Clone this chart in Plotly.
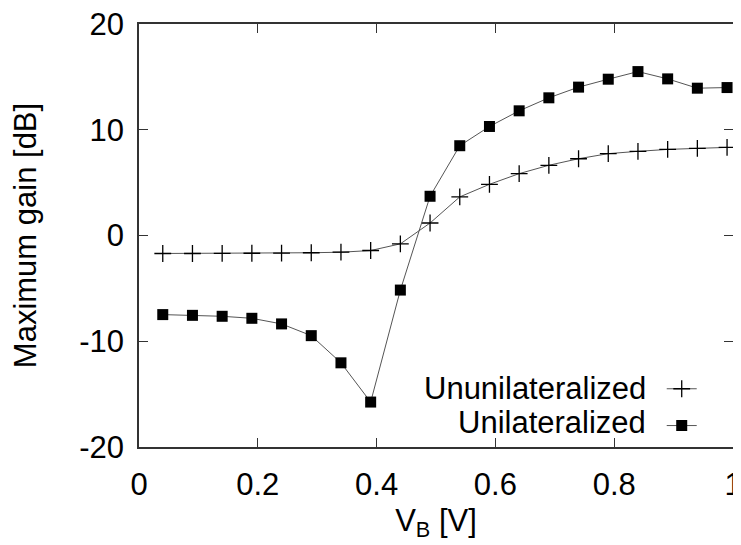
import plotly.graph_objects as go

vb = [0.04, 0.09, 0.14, 0.19, 0.24, 0.29, 0.34, 0.39, 0.44, 0.49,
      0.54, 0.59, 0.64, 0.69, 0.74, 0.79, 0.84, 0.89, 0.94, 0.99]
ununilateralized = [-1.70, -1.70, -1.69, -1.68, -1.66, -1.63, -1.58, -1.42, -0.79, 1.18,
                    3.65, 4.84, 5.85, 6.64, 7.26, 7.74, 7.96, 8.14, 8.24, 8.33]
unilateralized = [-7.48, -7.55, -7.64, -7.83, -8.36, -9.47, -12.04, -15.75, -5.16, 3.71,
                  8.49, 10.31, 11.79, 13.02, 14.03, 14.78, 15.50, 14.81, 13.93, 13.99]
series_names = ["Ununilateralized", "Unilateralized"]
x_ticks = [0, 0.2, 0.4, 0.6, 0.8, 1]
y_ticks = [-20, -10, 0, 10, 20]

FONT = "Liberation Sans, Arial, Helvetica, sans-serif"
LINE = "#555555"
FRAME = "#333333"
FS = 31

fig = go.Figure()
fig.add_trace(go.Scatter(
    x=vb, y=ununilateralized, mode="lines+markers", name=" ",
    line=dict(color=LINE, width=1),
    marker=dict(symbol="cross-thin", size=12, line=dict(color="black", width=1.3)),
    hovertemplate=series_names[0] + ": %{y} dB<extra></extra>",
))
fig.add_trace(go.Scatter(
    x=vb, y=unilateralized, mode="lines+markers", name=" ",
    line=dict(color=LINE, width=1),
    marker=dict(symbol="square", size=11, color="black"),
    hovertemplate=series_names[1] + ": %{y} dB<extra></extra>",
))

axis_common = dict(
    showgrid=False, zeroline=False, showline=True, linecolor=FRAME, linewidth=1.5,
    mirror="ticks", ticks="inside", ticklen=9, tickwidth=1, tickcolor=FRAME,
    tickfont=dict(family=FONT, size=FS, color="black"), automargin=False,
    ticklabeloverflow="allow",
)

fig.update_layout(
    width=733, height=537,
    margin=dict(l=131, r=8, t=16, b=98),
    paper_bgcolor="white", plot_bgcolor="white",
    font=dict(family=FONT, size=FS, color="black"),
    xaxis=dict(range=[0, 1], tickvals=x_ticks, ticktext=[str(t) for t in x_ticks],
               ticklabelstandoff=9,
               title=dict(text="V<sub>B</sub> [V]", font=dict(family=FONT, size=FS), standoff=8),
               **axis_common),
    yaxis=dict(range=[-20, 20], tickvals=y_ticks, ticktext=[str(t) for t in y_ticks],
               ticklabelstandoff=7,
               title=dict(text="Maximum gain [dB]", font=dict(family=FONT, size=FS), standoff=37),
               **axis_common),
    legend=dict(x=0.88, y=0.193, xanchor="left", yanchor="top",
                bgcolor="rgba(0,0,0,0)", font=dict(size=26), itemwidth=30,
                tracegroupgap=0),
    showlegend=True,
    annotations=[
        dict(text=series_names[0], xref="paper", yref="paper", x=0.857, y=0.139,
             xanchor="right", yanchor="middle", showarrow=False,
             font=dict(family=FONT, size=FS, color="black")),
        dict(text=series_names[1], xref="paper", yref="paper", x=0.857, y=0.057,
             xanchor="right", yanchor="middle", showarrow=False,
             font=dict(family=FONT, size=FS, color="black")),
    ],
)

fig.write_html("out.html")
